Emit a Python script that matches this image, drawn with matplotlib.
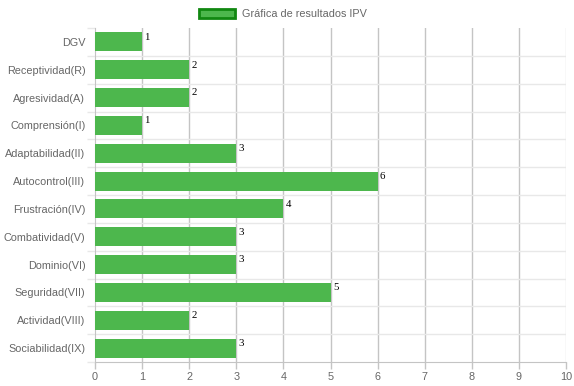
import matplotlib
matplotlib.use("Agg")
import matplotlib.pyplot as plt
from matplotlib.patches import Patch
import numpy as np

categories = ["DGV", "Receptividad(R)", "Agresividad(A)", "Comprensión(I)",
              "Adaptabilidad(II)", "Autocontrol(III)", "Frustración(IV)",
              "Combatividad(V)", "Dominio(VI)", "Seguridad(VII)",
              "Actividad(VIII)", "Sociabilidad(IX)"]
values = [1, 2, 2, 1, 3, 6, 4, 3, 3, 5, 2, 3]
x_ticks = list(range(0, 11))
legend_label = "Gráfica de resultados IPV"

plt.rcParams['font.family'] = ['Liberation Sans', 'DejaVu Sans']
FS = 7.8

fig = plt.figure(figsize=(5.74, 3.86), dpi=100)
ax = fig.add_axes([95/574, 24/386, 471/574, 334/386])

bar_color = "#4db74d"
y = np.arange(len(categories))
ax.barh(y, values, height=0.68, color=bar_color, zorder=3)

ax.set_xlim(0, 10)
ax.set_ylim(len(categories) - 0.5, -0.5)

# grid lines
for xv in x_ticks[1:]:
    c = "#dddddd" if xv == 10 else "#c4c4c4"
    ax.axvline(xv, color=c, lw=1, zorder=1)
for b in np.arange(0.5, len(categories) - 0.5, 1):
    ax.axhline(b, color="#e8e8e8", lw=1, zorder=1)

ax.set_xticks(x_ticks)
ax.set_xticklabels([str(v) for v in x_ticks])
ax.set_yticks(y)
ax.set_yticklabels(categories)
ax.set_yticks(np.arange(-0.5, len(categories) + 0.5, 1), minor=True)
ax.tick_params(axis='y', which='major', length=0, pad=7, labelsize=FS, labelcolor="#666666")
ax.tick_params(axis='y', which='minor', length=6, color="#e8e8e8", width=1)
ax.tick_params(axis='x', which='major', length=5, color="#c4c4c4", width=1, pad=2,
               labelsize=FS, labelcolor="#666666")

for s in ["top", "right"]:
    ax.spines[s].set_visible(False)
ax.spines["left"].set_color("#c4c4c4")
ax.spines["bottom"].set_color("#c4c4c4")

for yi, v in zip(y, values):
    ax.text(v + 0.05, yi - 0.33, str(v), family=["Liberation Serif", "DejaVu Serif"],
            fontsize=FS, color="black", va="top", ha="left", zorder=4)

handle = Patch(facecolor=bar_color, edgecolor="#118811", linewidth=2)
fig.legend([handle], [legend_label], loc="upper center", bbox_to_anchor=(0.493, 1.003),
           frameon=False, fontsize=FS, labelcolor="#666666",
           handlelength=3.3, handleheight=0.95, handletextpad=0.6)

fig.savefig("out.png", dpi=100)
